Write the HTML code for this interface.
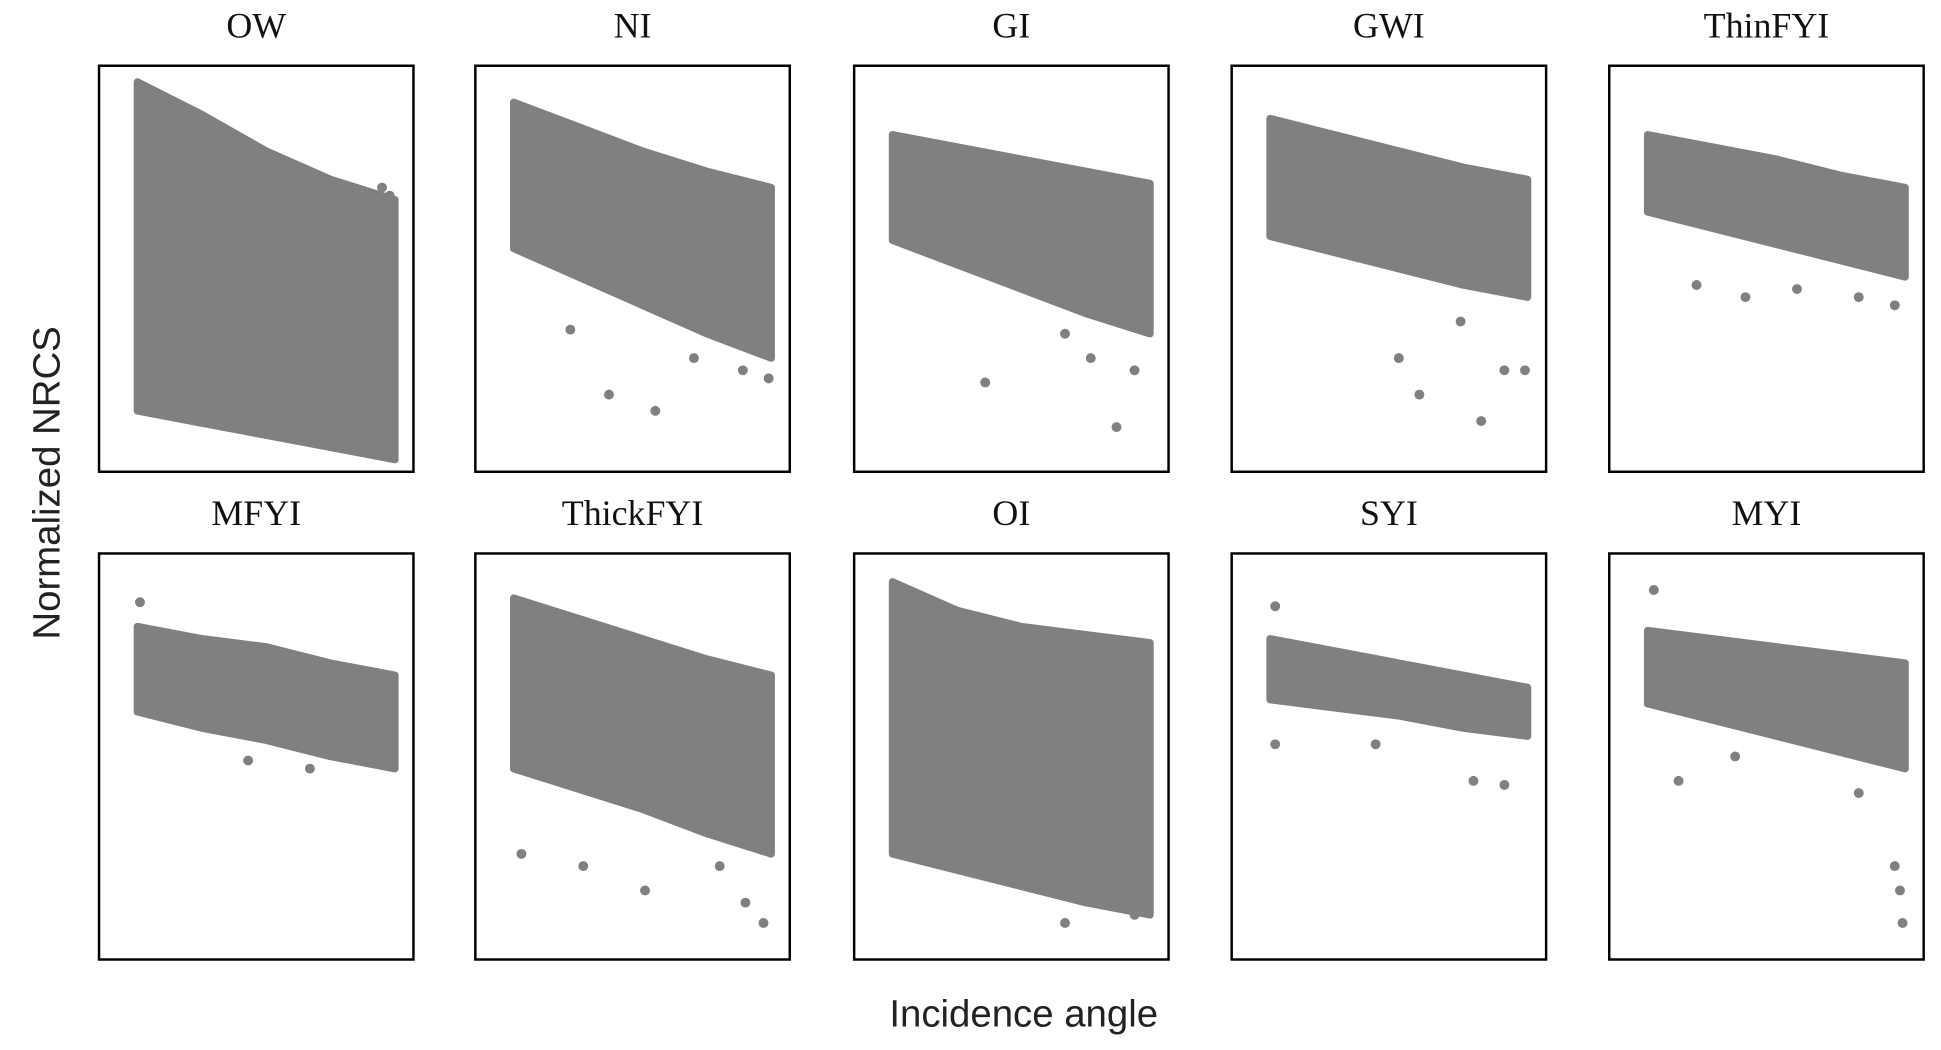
<!DOCTYPE html>
<html><head><meta charset="utf-8"><style>html,body{margin:0;padding:0;background:#fff}svg{display:block}</style></head>
<body>
<svg id="chart" width="1941" height="1050" viewBox="0 0 1568 848" xmlns="http://www.w3.org/2000/svg">
<text x="0" y="0" transform="translate(48,390) rotate(-90)" text-anchor="middle" font-family="Liberation Sans, sans-serif" font-size="31" fill="#222">Normalized NRCS</text>
<text x="827" y="829" text-anchor="middle" font-family="Liberation Sans, sans-serif" font-size="31" fill="#222">Incidence angle</text>
</svg>
<script>
const titles = ["OW","NI","GI","GWI","ThinFYI","MFYI","ThickFYI","OI","SYI","MYI"];
const xSamples = [0, 2.5, 5, 7.5, 10];
const upper = [
 [0.96,0.88,0.79,0.72,0.67],
 [0.91,0.85,0.79,0.74,0.70],
 [0.83,0.80,0.77,0.74,0.71],
 [0.87,0.83,0.79,0.75,0.72],
 [0.83,0.80,0.77,0.73,0.70],
 [0.82,0.79,0.77,0.73,0.70],
 [0.89,0.84,0.79,0.74,0.70],
 [0.93,0.86,0.82,0.80,0.78],
 [0.79,0.76,0.73,0.70,0.67],
 [0.81,0.79,0.77,0.75,0.73]
];
const lower = [
 [0.15,0.12,0.09,0.06,0.03],
 [0.55,0.48,0.41,0.34,0.28],
 [0.57,0.51,0.45,0.39,0.34],
 [0.58,0.54,0.50,0.46,0.43],
 [0.64,0.60,0.56,0.52,0.48],
 [0.61,0.57,0.54,0.50,0.47],
 [0.47,0.42,0.37,0.31,0.26],
 [0.26,0.22,0.18,0.14,0.11],
 [0.64,0.62,0.60,0.57,0.55],
 [0.63,0.59,0.55,0.51,0.47]
];
const outX = [
 [9.5,9.8],
 [2.2,3.7,5.5,7.0,8.9,9.9],
 [3.6,6.7,7.7,8.7,9.4],
 [5.0,5.8,7.4,8.2,9.1,9.9],
 [1.9,3.8,5.8,8.2,9.6],
 [4.3,6.7,0.1],
 [0.3,2.7,5.1,8.0,9.0,9.7],
 [0.2,2.9,6.7,9.4],
 [0.2,0.2,4.1,7.9,9.1],
 [0.24,1.2,3.4,8.2,9.6,9.8,9.9]
];
const outY = [
 [0.70,0.68],
 [0.35,0.19,0.15,0.28,0.25,0.23],
 [0.22,0.34,0.28,0.11,0.25],
 [0.28,0.19,0.37,0.125,0.25,0.25],
 [0.46,0.43,0.45,0.43,0.41],
 [0.49,0.47,0.88],
 [0.26,0.23,0.17,0.23,0.14,0.09],
 [0.26,0.23,0.09,0.11],
 [0.87,0.53,0.53,0.44,0.43],
 [0.91,0.44,0.50,0.41,0.23,0.17,0.09]
];
const colLeft = [80,384,690,995,1300];
const rowTop = [53,447];
const W = 254, H = 328;
const NS = "http://www.w3.org/2000/svg";
const svg = document.getElementById('chart');
function xs(v, left){ return left + 31 + v*20.8; }
function ys(v, top){ return top + H - v*H; }
titles.forEach((t,i)=>{
  const left = colLeft[i%5], top = rowTop[Math.floor(i/5)];
  const g = document.createElementNS(NS,'g');
  
  
  svg.appendChild(g);
  const tt = document.createElementNS(NS,'text');
  
  
  tt.setAttribute('x', left + W/2); tt.setAttribute('y', top - 23);
  tt.setAttribute('text-anchor','middle');
  tt.setAttribute('font-family','Liberation Serif, serif');
  tt.setAttribute('font-size','29'); tt.setAttribute('fill','#111');
  tt.textContent = t; g.appendChild(tt);
  let pts = [];
  xSamples.forEach((x,k)=>pts.push(xs(x,left)+','+ys(upper[i][k],top)));
  for(let k=xSamples.length-1;k>=0;k--) pts.push(xs(xSamples[k],left)+','+ys(lower[i][k],top));
  const band = document.createElementNS(NS,'polygon');
  
  
  band.setAttribute('points', pts.join(' '));
  band.setAttribute('fill','#808080'); band.setAttribute('stroke','#808080');
  band.setAttribute('stroke-width','6'); band.setAttribute('stroke-linejoin','round');
  g.appendChild(band);
  outX[i].forEach((x,k)=>{
    const c = document.createElementNS(NS,'circle');
    
    
    c.setAttribute('cx', xs(x,left)); c.setAttribute('cy', ys(outY[i][k],top));
    c.setAttribute('r', 4); c.setAttribute('fill','#808080');
    g.appendChild(c);
  });
  const r = document.createElementNS(NS,'rect');
  
  
  r.setAttribute('x', left); r.setAttribute('y', top);
  r.setAttribute('width', W); r.setAttribute('height', H);
  r.setAttribute('fill','none'); r.setAttribute('stroke','#000'); r.setAttribute('stroke-width','2');
  g.appendChild(r);
});
</script>
</body></html>
